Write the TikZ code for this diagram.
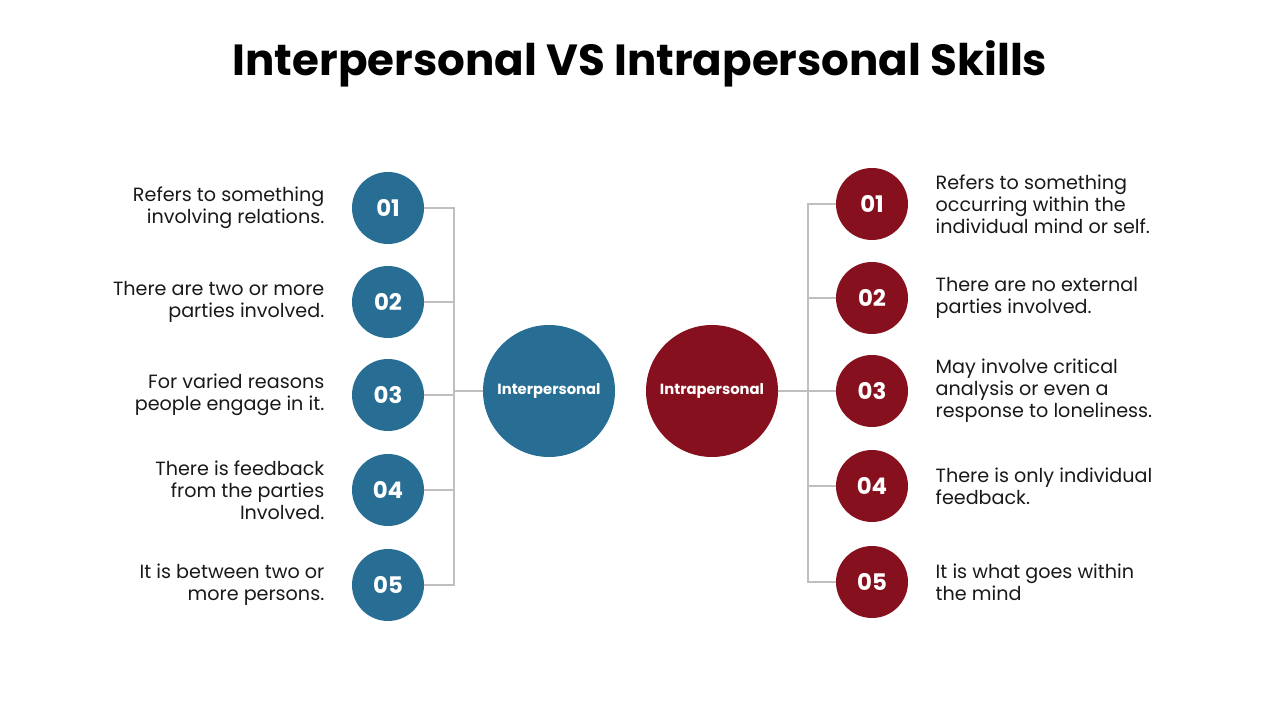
\documentclass[tikz,border=0pt]{standalone}
\usepackage{fontspec}
\setmainfont{Poppins}
\usetikzlibrary{positioning}
\definecolor{interblue}{RGB}{40,110,148}
\definecolor{intrared}{RGB}{134,16,30}
\definecolor{linegray}{RGB}{191,191,191}

\begin{document}
\begin{tikzpicture}[node distance=0.54cm, every node/.style={font=\fontsize{10.9}{12.6}\selectfont}]
\tikzstyle{bignum}=[circle, inner sep=0pt, minimum size=1.44cm, text=white, font=\fontsize{13}{15}\selectfont\bfseries]
\tikzstyle{hub}=[circle, inner sep=0pt, minimum size=2.64cm, text=white, font=\fontsize{8.4}{10}\selectfont\bfseries]
\tikzstyle{ltext}=[align=right, inner sep=0pt, text=black!90]
\tikzstyle{rtext}=[align=left, inner sep=0pt, text=black!90]
\tikzstyle{link}=[draw=linegray, line width=0.6pt]
\useasboundingbox (0,0) rectangle (25.6,14.4);
\node[font=\fontsize{24.8}{28}\selectfont\bfseries] (title) at (12.8,13.12) {Interpersonal VS Intrapersonal Skills};
% hubs
\node[hub, fill=interblue] (inter) at (10.98,6.58) {Interpersonal};
\node[hub, fill=intrared] (intra) at (14.24,6.58) {Intrapersonal};
\coordinate (lbus) at (9.08,6.58);
\coordinate (rbus) at (16.16,6.58);
% left side
\node[bignum, fill=interblue] (l1) at (7.76,10.24) {01};
\node[bignum, fill=interblue] (l2) at (7.76,8.36) {02};
\node[bignum, fill=interblue] (l3) at (7.76,6.50) {03};
\node[bignum, fill=interblue] (l4) at (7.76,4.60) {04};
\node[bignum, fill=interblue] (l5) at (7.76,2.70) {05};
\node[ltext, left=of l1] (lt1) {Refers to something\\involving relations.};
\node[ltext, left=of l2] (lt2) {There are two or more\\parties involved.};
\node[ltext, left=of l3] (lt3) {For varied reasons\\people engage in it.};
\node[ltext, left=of l4] (lt4) {There is feedback\\from the parties\\Involved.};
\node[ltext, left=of l5] (lt5) {It is between two or\\more persons.};
% right side
\node[bignum, fill=intrared] (r1) at (17.44,10.32) {01};
\node[bignum, fill=intrared] (r2) at (17.44,8.44) {02};
\node[bignum, fill=intrared] (r3) at (17.44,6.58) {03};
\node[bignum, fill=intrared] (r4) at (17.44,4.68) {04};
\node[bignum, fill=intrared] (r5) at (17.44,2.76) {05};
\node[rtext, right=of r1] (rt1) {Refers to something\\occurring within the\\individual mind or self.};
\node[rtext, right=of r2] (rt2) {There are no external\\parties involved.};
\node[rtext, right=of r3] (rt3) {May involve critical\\analysis or even a\\response to loneliness.};
\node[rtext, right=of r4] (rt4) {There is only individual\\feedback.};
\node[rtext, right=of r5] (rt5) {It is what goes within\\the mind};
% connectors
\draw[link] (l1.east) -| (lbus); \draw[link] (l2.east) -| (lbus); \draw[link] (l3.east) -| (lbus);
\draw[link] (l4.east) -| (lbus); \draw[link] (l5.east) -| (lbus); \draw[link] (lbus) -- (inter);
\draw[link] (intra) -- (rbus);
\draw[link] (rbus) |- (r1.west); \draw[link] (rbus) |- (r2.west); \draw[link] (rbus) |- (r3.west);
\draw[link] (rbus) |- (r4.west); \draw[link] (rbus) |- (r5.west);
\end{tikzpicture}
\end{document}
